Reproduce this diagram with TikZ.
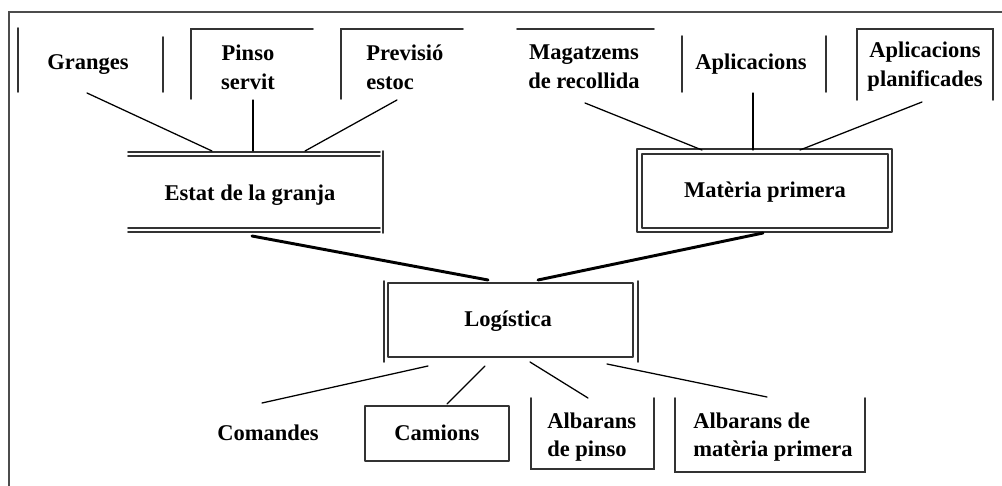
\documentclass[tikz,border=0pt]{standalone}
\usepackage{fontspec}
\setmainfont{Liberation Serif}
\usepackage{tkz-euclide}
\tikzset{>=stealth}
\tikzset{
  lbl/.style={font=\fontsize{16}{20.5}\selectfont\bfseries, inner sep=0pt, align=center},
  outerline/.style={line width=1.4pt, black!70},
  boxline/.style={line width=1.3pt, black!80},
  link/.style={line width=0.9pt, black},
  heavylink/.style={line width=2.1pt, black}
}

\begin{document}
\begin{tikzpicture}[x=0.025cm,y=-0.025cm]
    \useasboundingbox (0,0) rectangle (1002,486);
    % outer frame
    \tkzDefPoints{9/486/F1, 9/12/F2, 1002/12/F3}
    \tkzDrawPolySeg[outerline](F1,F2,F3)
    % top row
    \node[lbl] (granges) at (88,65) {Granges};
    \node[lbl] (pinso) at (248,67) {Pinso\\servit};
    \node[lbl, anchor=west, align=left] (previsio) at (366,67) {Previsió\\estoc};
    \node[lbl] (magatzems) at (584,67) {Magatzems\\de recollida};
    \node[lbl] (aplic) at (751,64) {Aplicacions};
    \node[lbl] (planif) at (925,67) {Aplicacions\\planificades};
    \tkzDefPoints{18/28/g1, 18/92/g2, 163/37/g3, 163/92/g4}
    \tkzDefPoints{191/99/p1, 191/29/p2, 313/29/p3}
    \tkzDefPoints{341/99/r1, 341/29/r2, 463/29/r3}
    \tkzDefPoints{517/29/m1, 654/29/m2}
    \tkzDefPoints{682/36/a1, 682/92/a2, 826/36/a3, 826/92/a4}
    \tkzDefPoints{857/100/l1, 857/29/l2, 993/29/l3, 993/100/l4}
    \tkzDrawSegments[boxline](g1,g2 g3,g4 m1,m2 a1,a2 a3,a4)
    \tkzDrawPolySeg[boxline](p1,p2,p3)
    \tkzDrawPolySeg[boxline](r1,r2,r3)
    \tkzDrawPolySeg[boxline](l1,l2,l3,l4)
    % middle row
    \node[lbl] (estat) at (250,195) {Estat de la granja};
    \node[lbl] (materia) at (765,192) {Matèria primera};
    \tkzDefPoints{128/152/e1, 380/152/e2, 128/156/e3, 380/156/e4,
      128/228/e5, 380/228/e6, 128/232/e7, 380/232/e8, 383/151/e9, 383/233/e10}
    \tkzDrawSegments[boxline](e1,e2 e3,e4 e5,e6 e7,e8 e9,e10)
    \tkzDefPoints{637/149/t1, 892/149/t2, 892/232/t3, 637/232/t4,
      642/154/t5, 888/154/t6, 888/228/t7, 642/228/t8}
    \tkzDrawPolygon[boxline](t1,t2,t3,t4)
    \tkzDrawPolygon[boxline](t5,t6,t7,t8)
    % centre
    \node[lbl] (logistica) at (508,321) {Logística};
    \tkzDefPoints{388/283/k1, 633/283/k2, 633/357/k3, 388/357/k4,
      384/281/k5, 384/362/k6, 638/281/k7, 638/362/k8}
    \tkzDrawPolygon[boxline](k1,k2,k3,k4)
    \tkzDrawSegments[boxline](k5,k6 k7,k8)
    % bottom row
    \node[lbl] (comandes) at (268,433) {Comandes};
    \node[lbl] (camions) at (437,433) {Camions};
    \node[lbl, anchor=west, align=left] (albpinso) at (547,437) {Albarans\\de pinso};
    \node[lbl, anchor=west, align=left] (albmat) at (693,437) {Albarans de\\matèria primera};
    \tkzDefPoints{365/406/c1, 509/406/c2, 509/461/c3, 365/461/c4}
    \tkzDrawPolygon[boxline](c1,c2,c3,c4)
    \tkzDefPoints{531/398/b1, 531/469/b2, 654/469/b3, 654/398/b4}
    \tkzDrawPolySeg[boxline](b1,b2,b3,b4)
    \tkzDefPoints{675/398/d1, 675/472/d2, 865/472/d3, 865/398/d4}
    \tkzDrawPolySeg[boxline](d1,d2,d3,d4)
    % connectors
    \tkzDefPoints{87/93/u1, 212/151/u2, 253/100/u3, 253/151/u4, 397/100/u5, 305/151/u6}
    \tkzDefPoints{585/103/v1, 702/150/v2, 753/93/v3, 753/150/v4, 922/102/v5, 800/150/v6}
    \tkzDrawSegments[link](u1,u2 u3,u4 u5,u6 v1,v2 v3,v4 v5,v6)
    \tkzDefPoints{252/236/h1, 488/280/h2, 763/233/h3, 538/280/h4}
    \tkzDrawSegments[heavylink](h1,h2 h3,h4)
    \tkzDefPoints{428/366/w1, 262/403/w2, 485/366/w3, 447/404/w4,
      530/362/w5, 588/398/w6, 607/364/w7, 767/397/w8}
    \tkzDrawSegments[link](w1,w2 w3,w4 w5,w6 w7,w8)
\end{tikzpicture}
\end{document}
